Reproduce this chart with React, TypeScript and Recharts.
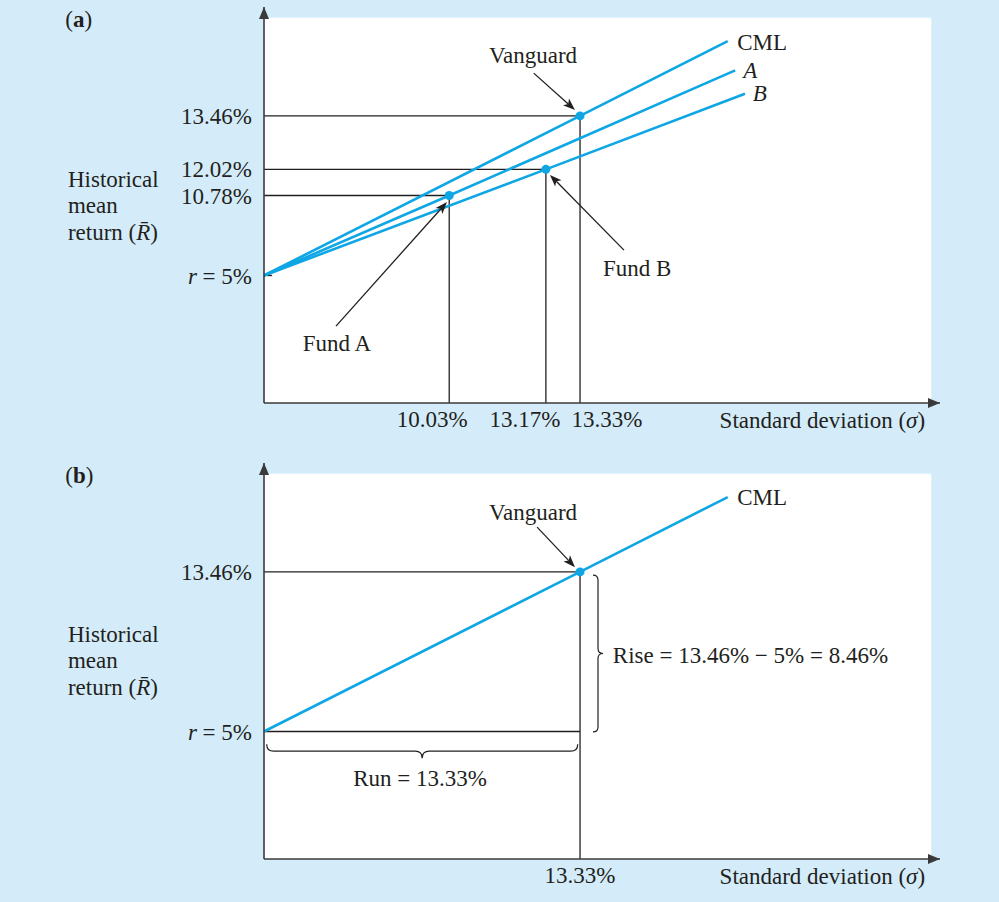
import React from 'react';
import {
  ComposedChart,
  Line,
  Scatter,
  XAxis,
  YAxis,
  ReferenceArea,
  ReferenceLine,
  ReferenceDot,
} from 'recharts';

const INK = '#231f20';
const AXIS = '#3a3a3a';
const BLUE = '#0ea6e4';
const PAGE = '#d4ecf9';
const FONT = "'Liberation Serif', 'DejaVu Serif', serif";
const FS = 23;

// The figure is a schematic, not drawn to scale. Axis units run 0-100 and hold
// where each mark sits in the picture; the label arrays hold the printed values.
const fundNames = ['Fund A', 'Fund B', 'Vanguard'];
const fundSigmaLabels = ['10.03%', '13.17%', '13.33%'];
const fundReturnLabels = ['10.78%', '12.02%', '13.46%'];
const fundSigma = [27.4, 41.7, 46.75];
const fundReturn = [52.4, 59.0, 72.5];

const riskFreeLabel = 'r = 5%';
const riskFree = 32.2;

// each line starts at r and runs through the fund with the same index
const lineNames = ['A', 'B', 'CML'];
const lineEndSigma = [69.7, 71.15, 68.6];
const lineEndReturn = [84.0, 78.1, 91.4];

const riseLabel = 'Rise = 13.46% \u2212 5% = 8.46%';
const runLabel = 'Run = 13.33%';

const funds = fundNames.map((name, i) => ({ name, x: fundSigma[i], y: fundReturn[i] }));
const lines = lineNames.map((name, i) => ({
  name,
  data: [
    { x: 0, y: riskFree },
    { x: fundSigma[i], y: fundReturn[i] },
    { x: lineEndSigma[i], y: lineEndReturn[i] },
  ],
}));

// layout (axis units) for the white plot field and annotations
const WHITE_X = 98.7;
const WHITE_Y = 97.3;
const txt = { fill: INK, fontFamily: FONT, fontSize: FS };

const textShape =
  (content: React.ReactNode, anchor: 'start' | 'middle' | 'end' = 'middle') =>
  (p: any) => (
    <text x={p.cx} y={p.cy} dy="0.35em" textAnchor={anchor} {...txt}>
      {content}
    </text>
  );

const panelTag = (letter: string) => (
  <>
    (<tspan fontWeight="bold">{letter}</tspan>)
  </>
);

const yLabelShape = (p: any) => (
  <text x={p.cx} y={p.cy} {...txt}>
    <tspan x={p.cx} dy="-0.8em">Historical</tspan>
    <tspan x={p.cx} dy="1.15em">mean</tspan>
    <tspan x={p.cx} dy="1.15em">
      return (<tspan fontStyle="italic">R{'\u0304'}</tspan>)
    </tspan>
  </text>
);

const xLabel = (
  <>
    Standard deviation (<tspan fontStyle="italic">{'\u03c3'}</tspan>)
  </>
);

const upHead = (p: any) => (
  <polygon points={`${p.cx},${p.cy} ${p.cx - 5},${p.cy + 12} ${p.cx + 5},${p.cy + 12}`} fill={AXIS} />
);
const rightHead = (p: any) => (
  <polygon points={`${p.cx},${p.cy} ${p.cx - 12},${p.cy - 5} ${p.cx - 12},${p.cy + 5}`} fill={AXIS} />
);

function Arrow(p: any) {
  const { x1, y1, x2, y2 } = p;
  const len = Math.hypot(x2 - x1, y2 - y1);
  const ux = (x2 - x1) / len;
  const uy = (y2 - y1) / len;
  const h = 12;
  const w = 4.5;
  const bx = x2 - ux * h;
  const by = y2 - uy * h;
  return (
    <g>
      <line x1={x1} y1={y1} x2={bx + ux * 3} y2={by + uy * 3} stroke={INK} strokeWidth={1.3} />
      <polygon
        points={`${x2},${y2} ${bx - uy * w},${by + ux * w} ${bx + ux * 3},${by + uy * 3} ${bx + uy * w},${by - ux * w}`}
        fill={INK}
      />
    </g>
  );
}

const braceShape = (depth: number) => (p: any) => {
  const { x1, y1, x2, y2 } = p;
  const len = Math.hypot(x2 - x1, y2 - y1);
  const ux = (x2 - x1) / len;
  const uy = (y2 - y1) / len;
  const nx = -uy;
  const ny = ux;
  const h = depth / 2;
  const r = depth / 2;
  const mx = (x1 + x2) / 2;
  const my = (y1 + y2) / 2;
  const pt = (x: number, y: number) => `${x.toFixed(1)},${y.toFixed(1)}`;
  const d = [
    `M${pt(x1, y1)}`,
    `Q${pt(x1 + nx * h, y1 + ny * h)} ${pt(x1 + ux * r + nx * h, y1 + uy * r + ny * h)}`,
    `L${pt(mx - ux * r + nx * h, my - uy * r + ny * h)}`,
    `Q${pt(mx + nx * h, my + ny * h)} ${pt(mx + nx * depth, my + ny * depth)}`,
    `M${pt(x2, y2)}`,
    `Q${pt(x2 + nx * h, y2 + ny * h)} ${pt(x2 - ux * r + nx * h, y2 - uy * r + ny * h)}`,
    `L${pt(mx + ux * r + nx * h, my + uy * r + ny * h)}`,
    `Q${pt(mx + nx * h, my + ny * h)} ${pt(mx + nx * depth, my + ny * depth)}`,
  ].join(' ');
  return <path d={d} fill="none" stroke={INK} strokeWidth={1.2} />;
};

const sigmaTick = (labels: string[], pos: number[], shift: number[]) => (p: any) => {
  const i = pos.indexOf(p.payload.value);
  return (
    <text x={p.x + (shift[i] ?? 0)} y={p.y} dy="0.71em" textAnchor="middle" {...txt}>
      {labels[i]}
    </text>
  );
};

const returnTick = (labels: string[], pos: number[]) => (p: any) => {
  const i = pos.indexOf(p.payload.value);
  const label = labels[i];
  return (
    <text x={p.x} y={p.y} dy="0.35em" textAnchor="end" {...txt}>
      {label === riskFreeLabel ? (
        <>
          <tspan fontStyle="italic">r</tspan> = 5%
        </>
      ) : (
        label
      )}
    </text>
  );
};

const seg = (ax: number, ay: number, bx: number, by: number) => [
  { x: ax, y: ay },
  { x: bx, y: by },
];

function PanelA() {
  const yPos = [riskFree, ...fundReturn];
  const yLab = [riskFreeLabel, ...fundReturnLabels];
  return (
    <ComposedChart width={999} height={451} margin={{ top: 7, right: 59, bottom: 0, left: 0 }}>
      <ReferenceArea x1={0} x2={WHITE_X} y1={0} y2={WHITE_Y} fill="#ffffff" fillOpacity={1} stroke="none" />
      <XAxis
        type="number"
        dataKey="x"
        domain={[0, 100]}
        ticks={fundSigma}
        interval={0}
        tickLine={false}
        height={48}
        axisLine={{ stroke: AXIS, strokeWidth: 1.6 }}
        tick={sigmaTick(fundSigmaLabels, fundSigma, [-17, -21, 27])}
      />
      <YAxis
        type="number"
        dataKey="y"
        domain={[0, 100]}
        ticks={yPos}
        interval={0}
        tickLine={false}
        width={264}
        tickMargin={6}
        axisLine={{ stroke: AXIS, strokeWidth: 1.6 }}
        tick={returnTick(yLab, yPos)}
      />
      {funds.map((f) => (
        <ReferenceLine key={`h-${f.name}`} segment={seg(0, f.y, f.x, f.y)} stroke={INK} strokeWidth={1.3} />
      ))}
      {funds.map((f) => (
        <ReferenceLine key={`v-${f.name}`} segment={seg(f.x, 0, f.x, f.y)} stroke={INK} strokeWidth={1.3} />
      ))}
      <ReferenceLine segment={seg(0, riskFree, 1.2, riskFree)} stroke={INK} strokeWidth={1.3} />
      {lines.map((l) => (
        <Line
          key={l.name}
          data={l.data}
          dataKey="y"
          type="linear"
          stroke={BLUE}
          strokeWidth={2.6}
          dot={false}
          activeDot={false}
          isAnimationActive={false}
        />
      ))}
      <Scatter data={funds} fill={BLUE} isAnimationActive={false} />
      <ReferenceLine segment={seg(39.9, 83.3, 46.0, 74.0)} shape={Arrow} />
      <ReferenceLine segment={seg(53.25, 38.6, 42.3, 57.6)} shape={Arrow} />
      <ReferenceLine segment={seg(10.65, 19.4, 27.07, 50.76)} shape={Arrow} />
      <ReferenceDot x={39.8} y={87.9} shape={textShape('Vanguard')} />
      <ReferenceDot x={55.2} y={34.1} shape={textShape('Fund B')} />
      <ReferenceDot x={10.8} y={15.2} shape={textShape('Fund A')} />
      <ReferenceDot x={70.0} y={91.2} shape={textShape('CML', 'start')} />
      <ReferenceDot x={70.9} y={84.1} shape={textShape(<tspan fontStyle="italic">A</tspan>, 'start')} />
      <ReferenceDot x={72.3} y={78.3} shape={textShape(<tspan fontStyle="italic">B</tspan>, 'start')} />
      <ReferenceDot x={-29.4} y={97.1} ifOverflow="visible" shape={textShape(panelTag('a'), 'start')} />
      <ReferenceDot x={-29.0} y={50} ifOverflow="visible" shape={yLabelShape} />
      <ReferenceDot x={97.8} y={-4.3} ifOverflow="visible" shape={textShape(xLabel, 'end')} />
      <ReferenceDot x={0} y={100} shape={upHead} />
      <ReferenceDot x={100} y={0} shape={rightHead} />
    </ComposedChart>
  );
}

function PanelB() {
  const v = funds[2];
  const cml = lines[2];
  const yPos = [riskFree, v.y];
  const yLab = [riskFreeLabel, fundReturnLabels[2]];
  return (
    <ComposedChart width={999} height={446} margin={{ top: 7, right: 59, bottom: 0, left: 0 }}>
      <ReferenceArea x1={0} x2={WHITE_X} y1={0} y2={WHITE_Y} fill="#ffffff" fillOpacity={1} stroke="none" />
      <XAxis
        type="number"
        dataKey="x"
        domain={[0, 100]}
        ticks={[v.x]}
        interval={0}
        tickLine={false}
        height={43}
        axisLine={{ stroke: AXIS, strokeWidth: 1.6 }}
        tick={sigmaTick([fundSigmaLabels[2]], [v.x], [0])}
      />
      <YAxis
        type="number"
        dataKey="y"
        domain={[0, 100]}
        ticks={yPos}
        interval={0}
        tickLine={false}
        width={264}
        tickMargin={6}
        axisLine={{ stroke: AXIS, strokeWidth: 1.6 }}
        tick={returnTick(yLab, yPos)}
      />
      <ReferenceLine segment={seg(0, v.y, v.x, v.y)} stroke={INK} strokeWidth={1.3} />
      <ReferenceLine segment={seg(v.x, 0, v.x, v.y)} stroke={INK} strokeWidth={1.3} />
      <ReferenceLine segment={seg(0, riskFree, v.x, riskFree)} stroke={INK} strokeWidth={1.3} />
      <Line
        data={cml.data}
        dataKey="y"
        type="linear"
        stroke={BLUE}
        strokeWidth={2.6}
        dot={false}
        activeDot={false}
        isAnimationActive={false}
      />
      <Scatter data={[v]} fill={BLUE} isAnimationActive={false} />
      <ReferenceLine segment={seg(40.4, 83.8, 46.0, 73.7)} shape={Arrow} />
      <ReferenceLine segment={seg(48.67, 32.1, 48.67, 71.7)} shape={braceShape(10)} />
      <ReferenceLine segment={seg(0.4, 29.0, 46.4, 29.0)} shape={braceShape(14)} />
      <ReferenceDot x={39.8} y={87.6} shape={textShape('Vanguard')} />
      <ReferenceDot x={70.0} y={91.4} shape={textShape('CML', 'start')} />
      <ReferenceDot x={51.6} y={51.5} shape={textShape(riseLabel, 'start')} />
      <ReferenceDot x={23.1} y={20.45} shape={textShape(runLabel)} />
      <ReferenceDot x={-29.4} y={97.1} ifOverflow="visible" shape={textShape(panelTag('b'), 'start')} />
      <ReferenceDot x={-29.0} y={50.2} ifOverflow="visible" shape={yLabelShape} />
      <ReferenceDot x={97.8} y={-4.3} ifOverflow="visible" shape={textShape(xLabel, 'end')} />
      <ReferenceDot x={0} y={100} shape={upHead} />
      <ReferenceDot x={100} y={0} shape={rightHead} />
    </ComposedChart>
  );
}

export default function App() {
  return (
    <div
      style={{ position: 'absolute', left: 0, top: 0, width: 999, height: 902, background: PAGE, overflow: 'hidden' }}
    >
      <div style={{ position: 'absolute', left: 0, top: 0 }}>
        <PanelA />
      </div>
      <div style={{ position: 'absolute', left: 0, top: 456 }}>
        <PanelB />
      </div>
    </div>
  );
}
